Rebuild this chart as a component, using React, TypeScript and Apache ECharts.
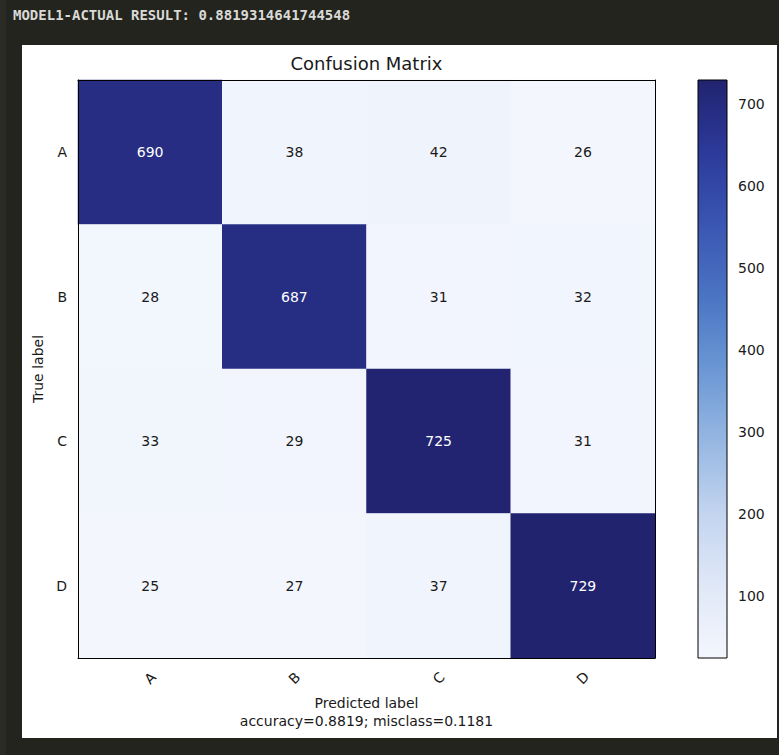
import { useEffect, useRef } from "react";
import * as echarts from "echarts";

// Class labels and confusion-matrix rows (true label → counts per predicted label)
const classNames = ["A", "B", "C", "D"];
const rowA = [690, 38, 42, 26];
const rowB = [28, 687, 31, 32];
const rowC = [33, 29, 725, 31];
const rowD = [25, 27, 37, 729];
const matrix = [rowA, rowB, rowC, rowD];

// Colorbar tick values
const colorbarTicks = [100, 200, 300, 400, 500, 600, 700];

// Blues-style colormap, low → high
const palette = [
  "#f3f6fd",
  "#e0e8f7",
  "#c3d4ef",
  "#96b7e2",
  "#6b97d4",
  "#4b74c3",
  "#3a56b2",
  "#2c3a9a",
  "#21236f",
];

const FONT = "DejaVu Sans";

export default function App() {
  const ref = useRef<HTMLDivElement>(null);

  useEffect(() => {
    if (!ref.current) return;
    const chart = echarts.init(ref.current, null, { renderer: "svg" });

    const flat = matrix.flat();
    const vMin = Math.min(...flat);
    const vMax = Math.max(...flat);
    const total = flat.reduce((a, b) => a + b, 0);
    const correct = matrix.reduce((s, row, i) => s + row[i], 0);
    const accuracy = correct / total;
    const misclass = 1 - accuracy;
    const thresh = vMax / 2;

    const cells: any[] = [];
    matrix.forEach((row, i) => {
      row.forEach((v, j) => {
        cells.push({
          value: [j, i, v],
          label: { color: v > thresh ? "#ffffff" : "#1a1a1a" },
        });
      });
    });

    const stops = palette.map((c, i) => ({
      offset: 1 - i / (palette.length - 1),
      color: c,
    }));

    const option: any = {
      animation: false,
      backgroundColor: "#24241e",
      textStyle: { fontFamily: FONT },
      graphic: [
        {
          type: "rect",
          z: -100,
          shape: { x: 0, y: 0, width: 6, height: 755 },
          style: { fill: "#2b2b26" },
        },
        {
          type: "rect",
          z: -100,
          shape: { x: 22, y: 45, width: 755, height: 693 },
          style: { fill: "#ffffff" },
        },
        {
          type: "text",
          x: 13,
          y: 15,
          style: {
            text: "MODEL1-ACTUAL RESULT: " + String(accuracy),
            fontFamily: "DejaVu Sans Mono",
            fontWeight: "bold",
            fontSize: 14,
            fill: "#d9d9d6",
            textAlign: "left",
            textVerticalAlign: "middle",
          },
        },
        {
          type: "text",
          x: 366.5,
          y: 63,
          style: {
            text: "Confusion Matrix",
            fontFamily: FONT,
            fontSize: 18,
            fill: "#1a1a1a",
            textAlign: "center",
            textVerticalAlign: "middle",
          },
        },
      ],
      grid: [
        { left: 78, top: 80, width: 577, height: 578 },
        { left: 698, top: 80, width: 29, height: 578 },
      ],
      visualMap: {
        show: false,
        type: "continuous",
        seriesIndex: 0,
        dimension: 2,
        min: vMin,
        max: vMax,
        inRange: { color: palette },
      },
      xAxis: [
        {
          gridIndex: 0,
          type: "category",
          data: classNames,
          position: "bottom",
          z: 10,
          axisLine: { lineStyle: { color: "#000", width: 1 } },
          axisTick: { alignWithLabel: true, length: 5, lineStyle: { color: "#000" } },
          axisLabel: {
            rotate: 45,
            align: "center",
            verticalAlign: "middle",
            margin: 20,
            fontSize: 14,
            color: "#1a1a1a",
            fontFamily: FONT,
          },
          splitLine: { show: false },
          name:
            "Predicted label\naccuracy=" +
            accuracy.toFixed(4) +
            "; misclass=" +
            misclass.toFixed(4),
          nameLocation: "middle",
          nameGap: 35,
          nameTextStyle: {
            fontSize: 14,
            lineHeight: 18,
            color: "#1a1a1a",
            fontFamily: FONT,
          },
        },
        {
          gridIndex: 0,
          type: "category",
          data: classNames,
          position: "top",
          z: 10,
          axisLine: { lineStyle: { color: "#000", width: 1 } },
          axisTick: { show: false },
          axisLabel: { show: false },
          splitLine: { show: false },
        },
        {
          gridIndex: 1,
          type: "value",
          min: 0,
          max: 1,
          show: false,
        },
      ],
      yAxis: [
        {
          gridIndex: 0,
          type: "category",
          data: classNames,
          inverse: true,
          position: "left",
          z: 10,
          axisLine: { lineStyle: { color: "#000", width: 1 } },
          axisTick: { alignWithLabel: true, length: 5, lineStyle: { color: "#000" } },
          axisLabel: {
            margin: 11,
            fontSize: 14,
            color: "#1a1a1a",
            fontFamily: FONT,
          },
          splitLine: { show: false },
          name: "True label",
          nameLocation: "middle",
          nameGap: 31,
          nameTextStyle: { fontSize: 14, color: "#1a1a1a", fontFamily: FONT },
        },
        {
          gridIndex: 0,
          type: "category",
          data: classNames,
          inverse: true,
          position: "right",
          z: 10,
          axisLine: { lineStyle: { color: "#000", width: 1 } },
          axisTick: { show: false },
          axisLabel: { show: false },
          splitLine: { show: false },
        },
        {
          gridIndex: 1,
          type: "value",
          min: vMin,
          max: vMax,
          position: "right",
          axisLine: { show: false },
          axisTick: {
            show: true,
            length: 5,
            customValues: colorbarTicks,
            lineStyle: { color: "#000" },
          },
          axisLabel: {
            customValues: colorbarTicks,
            margin: 11,
            fontSize: 14,
            color: "#1a1a1a",
            fontFamily: FONT,
          },
          splitLine: { show: false },
        },
      ],
      series: [
        {
          type: "heatmap",
          xAxisIndex: 0,
          yAxisIndex: 0,
          z: 2,
          data: cells,
          label: {
            show: true,
            fontSize: 14,
            fontFamily: FONT,
            formatter: (p: any) => String(p.value[2]),
          },
          itemStyle: { borderWidth: 0 },
          emphasis: { disabled: true },
        },
        {
          type: "custom",
          xAxisIndex: 2,
          yAxisIndex: 2,
          data: [[0, 1, vMin, vMax]],
          renderItem: (_params: any, api: any) => {
            const p0 = api.coord([api.value(0), api.value(3)]);
            const p1 = api.coord([api.value(1), api.value(2)]);
            return {
              type: "rect",
              shape: {
                x: p0[0],
                y: p0[1],
                width: p1[0] - p0[0],
                height: p1[1] - p0[1],
              },
              style: {
                fill: new echarts.graphic.LinearGradient(0, 0, 0, 1, stops.slice().reverse()),
                stroke: "#000",
                lineWidth: 1,
              },
            };
          },
        },
      ],
    };

    chart.setOption(option);
    return () => chart.dispose();
  }, []);

  return (
    <div
      ref={ref}
      style={{ position: "fixed", left: 0, top: 0, width: 779, height: 755 }}
    />
  );
}
